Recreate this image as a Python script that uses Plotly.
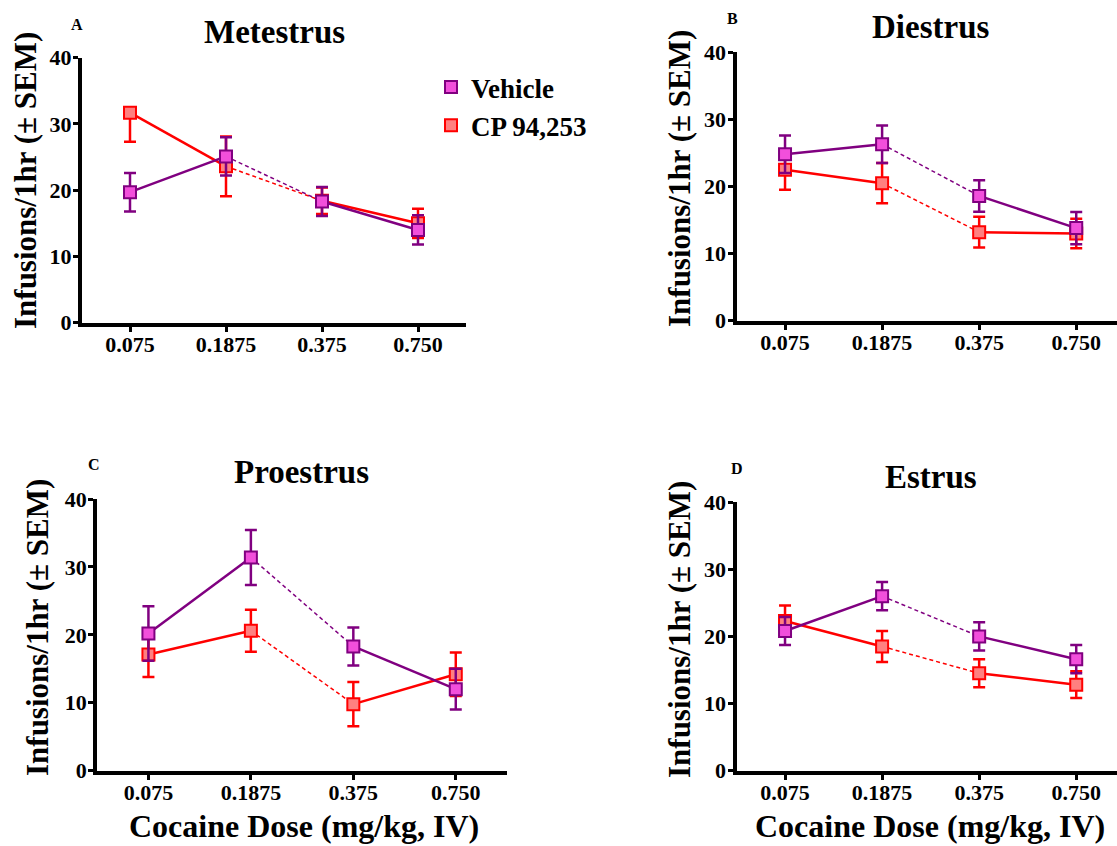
import plotly.graph_objects as go

W, H = 1117, 846

doses = ["0.075", "0.1875", "0.375", "0.750"]
panel_titles = ["Metestrus", "Diestrus", "Proestrus", "Estrus"]
panel_letters = ["A", "B", "C", "D"]
series_names = ["Vehicle", "CP 94,253"]

# Metestrus
veh_A = [19.7, 25.1, 18.3, 14.0]
veh_A_sem = [2.9, 2.9, 2.2, 2.2]
cp_A = [31.7, 23.6, 18.4, 15.0]
cp_A_sem_up = [0.0, 4.5, 2.0, 2.2]
cp_A_sem_down = [4.4, 4.5, 2.0, 2.2]
# Diestrus
veh_B = [24.8, 26.3, 18.6, 13.8]
veh_B_sem = [2.8, 2.8, 2.35, 2.4]
cp_B = [22.5, 20.5, 13.2, 13.0]
cp_B_sem = [3.0, 3.0, 2.3, 2.2]
# Proestrus
veh_C = [20.2, 31.4, 18.3, 12.0]
veh_C_sem = [4.0, 4.05, 2.8, 3.0]
cp_C = [17.1, 20.6, 9.8, 14.2]
cp_C_sem = [3.3, 3.1, 3.25, 3.2]
# Estrus
veh_D = [20.8, 26.0, 20.0, 16.6]
veh_D_sem = [2.1, 2.1, 2.1, 2.1]
cp_D = [22.3, 18.5, 14.5, 12.8]
cp_D_sem = [2.3, 2.3, 2.1, 2.0]

y_ticks = [0, 10, 20, 30, 40]

panels = [
    dict(veh=veh_A, veh_up=veh_A_sem, veh_dn=veh_A_sem, cp=cp_A, cp_up=cp_A_sem_up, cp_dn=cp_A_sem_down),
    dict(veh=veh_B, veh_up=veh_B_sem, veh_dn=veh_B_sem, cp=cp_B, cp_up=cp_B_sem, cp_dn=cp_B_sem),
    dict(veh=veh_C, veh_up=veh_C_sem, veh_dn=veh_C_sem, cp=cp_C, cp_up=cp_C_sem, cp_dn=cp_C_sem),
    dict(veh=veh_D, veh_up=veh_D_sem, veh_dn=veh_D_sem, cp=cp_D, cp_up=cp_D_sem, cp_dn=cp_D_sem),
]

# layout geometry in pixels: (x_left, x_right, y_top, y_bottom, x_range_max)
geom = [
    (82, 466, 57.7, 322.7, 3.5),
    (736.5, 1117, 52.3, 320.7, 3.42),
    (97.2, 507, 499, 770.7, 3.5),
    (736.5, 1117, 502.3, 770.5, 3.42),
]

FONT = "Liberation Serif, Times New Roman, serif"
VEH_LINE = "#800080"
VEH_FILL = "#F24FDB"
CP_LINE = "#FF0000"
CP_FILL = "#FF8080"


def b(t):
    return f"<b>{t}</b>"


fig = go.Figure()


def px_x(x):
    return x / W


def px_y(y):
    return 1 - y / H


for i, p in enumerate(panels):
    xa = "x" if i == 0 else f"x{i+1}"
    ya = "y" if i == 0 else f"y{i+1}"
    for key, lc, fc, name, rank in [("cp", CP_LINE, CP_FILL, series_names[1], 2),
                                    ("veh", VEH_LINE, VEH_FILL, series_names[0], 1)]:
        vals = p[key]
        segs = [(0, 2, "solid", 2.5), (1, 3, "4px,3px", 1.5), (2, 4, "solid", 2.5)]
        for a, bb, dash, lw in segs:
            fig.add_trace(go.Scatter(
                x=doses[a:bb], y=vals[a:bb], mode="lines", xaxis=xa, yaxis=ya,
                line=dict(color=lc, width=lw, dash=dash), showlegend=False,
                hoverinfo="skip"))
        fig.add_trace(go.Scatter(
            x=doses, y=vals, mode="markers", xaxis=xa, yaxis=ya, name=b(name),
            legendrank=rank, showlegend=(i == 0),
            marker=dict(symbol="square", size=12, color=fc, line=dict(color=lc, width=2)),
            error_y=dict(type="data", symmetric=False, array=p[key + "_up"],
                         arrayminus=p[key + "_dn"], color=lc, thickness=2.5, width=6),
            cliponaxis=False))

layout = dict(
    width=W, height=H, margin=dict(l=0, r=0, t=0, b=0, pad=0, autoexpand=False),
    paper_bgcolor="white", plot_bgcolor="white",
    font=dict(family=FONT, color="black"),
    showlegend=True,
    legend=dict(x=px_x(431), y=px_y(63), xanchor="left", yanchor="top",
                font=dict(family=FONT, size=27, color="black"),
                bgcolor="rgba(0,0,0,0)", tracegroupgap=0, itemwidth=30,
                traceorder="normal"),
)

annotations = []
title_pos = [(274, 32), (930, 27), (302, 472), (931, 477)]
letter_pos = [(77, 25), (732, 18), (94, 465), (737, 468)]
ytitle_pos = [(25, 181), (679, 179), (37, 628), (679, 630)]
xtitle_pos = [None, None, (304, 826), (930, 826)]

for i, (xl, xr, yt, yb, xmax) in enumerate(geom):
    xk = "xaxis" if i == 0 else f"xaxis{i+1}"
    yk = "yaxis" if i == 0 else f"yaxis{i+1}"
    ya = "y" if i == 0 else f"y{i+1}"
    xa = "x" if i == 0 else f"x{i+1}"
    layout[xk] = dict(
        domain=[px_x(xl), min(1.0, px_x(xr))], anchor=ya, type="category",
        categoryorder="array", categoryarray=doses, range=[-0.5, xmax],
        tickmode="array", tickvals=doses, ticktext=[b(d) for d in doses],
        showline=True, linewidth=4, linecolor="black", ticks="outside",
        ticklen=5, tickwidth=3, tickcolor="black", showgrid=False, zeroline=False,
        automargin=False, ticklabelstandoff=-6,
        tickfont=dict(family=FONT, size=22, color="black"))
    layout[yk] = dict(
        domain=[px_y(yb), px_y(yt)], anchor=xa, range=[0, 40],
        tickmode="array", tickvals=y_ticks, ticktext=[b(v) for v in y_ticks],
        showline=True, linewidth=4, linecolor="black", ticks="outside",
        ticklen=5, tickwidth=3, tickcolor="black", showgrid=False, zeroline=False,
        automargin=False, ticklabelstandoff=-3,
        tickfont=dict(family=FONT, size=22, color="black"))
    tx, ty = title_pos[i]
    annotations.append(dict(text=b(panel_titles[i]), x=px_x(tx), y=px_y(ty), xref="paper", yref="paper",
                            xanchor="center", yanchor="middle", showarrow=False,
                            font=dict(family=FONT, size=33, color="black")))
    lx, ly = letter_pos[i]
    annotations.append(dict(text=b(panel_letters[i]), x=px_x(lx), y=px_y(ly), xref="paper", yref="paper",
                            xanchor="center", yanchor="middle", showarrow=False,
                            font=dict(family=FONT, size=16, color="black")))
    yx, yy = ytitle_pos[i]
    annotations.append(dict(text=b("Infusions/1hr (± SEM)"), x=px_x(yx), y=px_y(yy), xref="paper", yref="paper",
                            xanchor="center", yanchor="middle", showarrow=False, textangle=-90,
                            font=dict(family=FONT, size=31, color="black")))
    if xtitle_pos[i] is not None:
        xx, xy = xtitle_pos[i]
        annotations.append(dict(text=b("Cocaine Dose (mg/kg, IV)"), x=px_x(xx), y=px_y(xy), xref="paper", yref="paper",
                                xanchor="center", yanchor="middle", showarrow=False,
                                font=dict(family=FONT, size=32, color="black")))

layout["annotations"] = annotations
fig.update_layout(**layout)
fig.write_html("out.html", config={"displayModeBar": False},
               post_script="document.body.style.margin='0';document.body.style.overflow='hidden';")
